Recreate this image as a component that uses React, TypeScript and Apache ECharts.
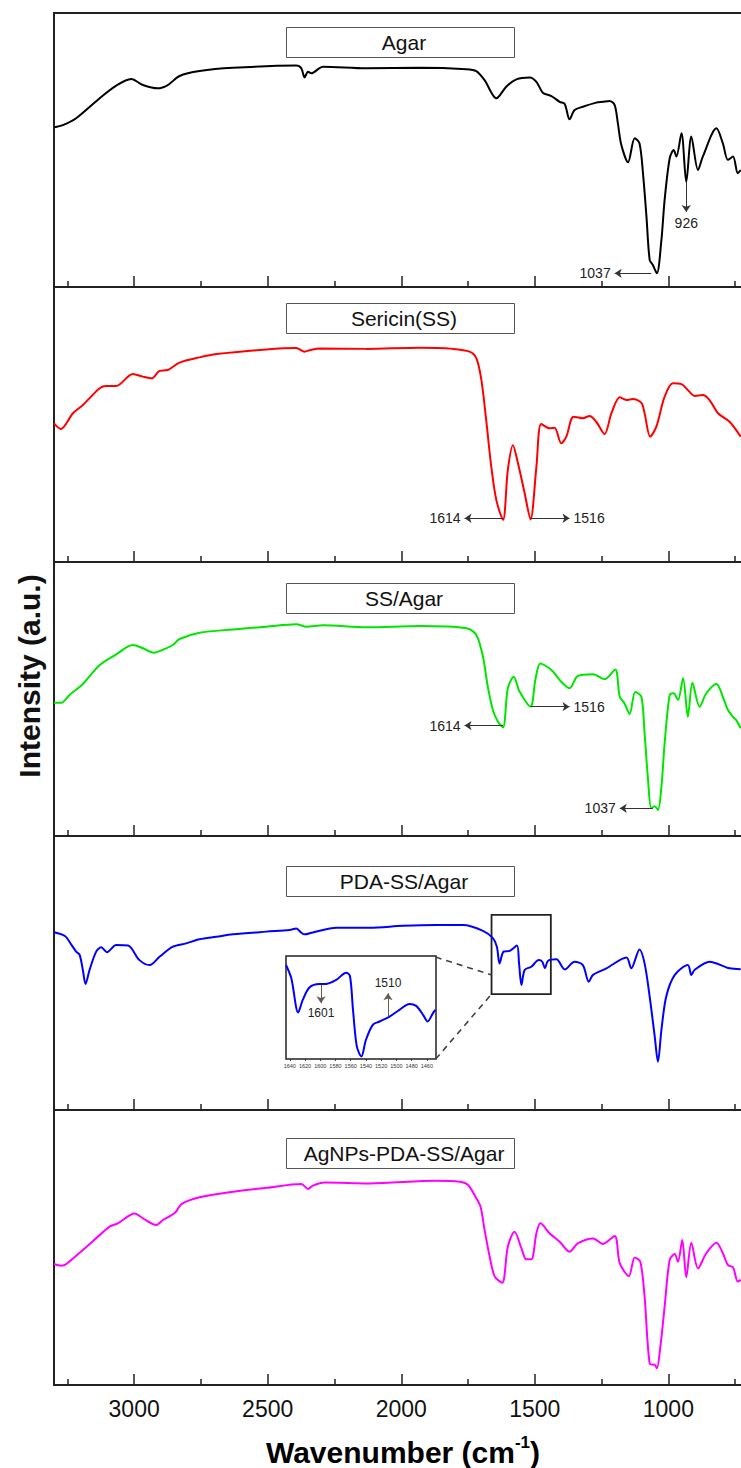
import React, { useEffect, useRef } from 'react';
import * as echarts from 'echarts';

// ---------- data ----------
const majorTicks = [1000, 1500, 2000, 2500, 3000];
const minorTicks = [750, 1250, 1750, 2250, 2750, 3250];
const insetTicks = [1460, 1480, 1500, 1520, 1540, 1560, 1580, 1600, 1620, 1640];

const panelNames = ['Agar', 'Sericin(SS)', 'SS/Agar', 'PDA-SS/Agar', 'AgNPs-PDA-SS/Agar'];
const panelColors = ['#000000', '#ff0000', '#00e600', '#0000ff', '#ff00ff'];

const agar = [[3300,58.3],[3267,59.1],[3217,61.6],[3129,68.9],[3067,73.5],[3011,75.9],[2967,73.7],[2911,72.5],[2874,73.7],[2830,77.0],[2755,78.8],[2630,80.0],[2393,80.8],[2374,79.8],[2362,76.5],[2349,78.6],[2337,78.0],[2293,80.4],[2131,79.8],[1931,80.0],[1756,79.5],[1719,78.8],[1688,75.5],[1644,68.9],[1607,73.1],[1569,75.8],[1519,76.5],[1494,74.9],[1470,70.9],[1438,69.7],[1407,67.6],[1388,66.8],[1370,61.2],[1351,64.6],[1320,65.8],[1270,67.3],[1245,67.6],[1220,67.9],[1201,66.4],[1189,59.7],[1176,51.8],[1151,45.5],[1126,54.3],[1108,52.4],[1095,41.5],[1082,25.7],[1070,9.9],[1058,8.0],[1043,5.0],[1026,17.2],[1014,31.8],[995,47.0],[980,50.0],[970,47.6],[951,56.1],[933,38.4],[914,54.9],[889,42.7],[871,47.6],[820,57.9],[796,52.4],[777,46.4],[758,47.6],[740,41.5],[729,42.7]];

const sericin = [[3300,50.4],[3275,48.4],[3229,54.1],[3192,57.1],[3129,63.2],[3104,64.0],[3067,64.0],[3005,68.4],[2967,67.4],[2934,66.8],[2905,69.5],[2874,69.8],[2830,72.5],[2755,74.4],[2692,75.6],[2505,77.3],[2393,77.8],[2362,76.5],[2343,77.0],[2306,77.6],[2131,77.5],[1931,77.9],[1807,77.5],[1744,76.5],[1719,74.1],[1700,66.2],[1682,51.6],[1663,34.7],[1644,22.5],[1619,15.3],[1601,33.5],[1582,42.5],[1563,35.9],[1538,25.0],[1516,15.5],[1494,34.7],[1476,50.2],[1445,48.6],[1426,48.8],[1401,43.2],[1382,45.6],[1355,52.8],[1320,52.3],[1295,53.1],[1270,51.0],[1239,46.5],[1213,54.1],[1182,59.9],[1157,58.9],[1133,59.3],[1101,57.9],[1089,54.1],[1068,45.6],[1045,49.2],[1014,60.1],[983,65.0],[951,64.7],[927,62.5],[902,60.4],[871,60.7],[846,58.9],[814,54.1],[771,51.0],[729,45.6]];

const ssAgar = [[3300,48.6],[3273,48.6],[3242,51.5],[3192,55.5],[3129,62.4],[3067,66.3],[3005,69.7],[2967,68.5],[2926,66.9],[2880,68.5],[2855,69.7],[2830,71.9],[2755,74.2],[2630,75.4],[2505,76.4],[2393,77.3],[2355,76.4],[2293,76.9],[2131,76.2],[1931,76.6],[1756,75.8],[1719,73.4],[1694,65.4],[1676,54.5],[1657,46.0],[1638,41.7],[1619,39.7],[1601,53.9],[1579,58.1],[1557,52.7],[1516,47.2],[1498,56.9],[1479,63.0],[1438,60.6],[1401,56.3],[1370,53.9],[1339,58.4],[1282,59.0],[1239,57.2],[1199,60.8],[1182,50.8],[1164,48.4],[1145,44.5],[1124,52.6],[1101,50.8],[1089,37.5],[1076,20.4],[1064,10.1],[1051,10.9],[1039,9.5],[1026,18.0],[1014,33.8],[995,51.5],[980,52.1],[964,49.6],[945,57.6],[927,43.5],[910,55.9],[883,47.2],[858,52.1],[820,55.5],[796,50.8],[777,46.0],[758,43.5],[746,42.3],[729,39.3]];

const pdaSsAgar = [[3300,64.9],[3259,63.5],[3234,60.2],[3217,57.8],[3204,56.6],[3192,51.1],[3182,46.0],[3167,51.1],[3142,57.8],[3123,59.4],[3102,57.6],[3067,60.2],[3023,60.0],[2980,54.7],[2942,52.9],[2905,55.9],[2855,59.6],[2805,60.8],[2755,62.3],[2692,63.2],[2630,64.1],[2505,65.1],[2418,65.7],[2393,66.2],[2374,64.7],[2362,64.1],[2331,64.8],[2243,66.5],[2118,66.5],[1994,67.2],[1869,67.5],[1769,67.5],[1694,65.4],[1657,62.7],[1642,59.6],[1632,53.5],[1617,57.8],[1594,58.1],[1567,60.0],[1559,53.5],[1550,45.6],[1538,51.1],[1513,52.3],[1485,54.7],[1472,54.1],[1462,51.7],[1451,54.4],[1419,55.0],[1388,51.3],[1351,54.1],[1320,52.9],[1298,46.8],[1282,49.3],[1232,51.7],[1157,55.7],[1139,51.7],[1108,58.6],[1089,53.5],[1070,41.4],[1051,26.8],[1039,17.6],[1026,29.2],[1008,41.4],[976,49.3],[927,52.9],[914,49.3],[902,51.1],[846,54.1],[771,51.7],[729,51.4]];

const agnpPdaSsAgar = [[3300,44.0],[3273,43.4],[3254,44.0],[3192,49.1],[3129,54.5],[3092,57.6],[3061,58.8],[2998,62.4],[2967,60.6],[2917,58.2],[2892,60.0],[2846,62.7],[2823,65.8],[2755,68.3],[2630,70.3],[2505,71.7],[2374,73.1],[2349,71.3],[2331,72.5],[2287,73.6],[2118,73.3],[1869,74.3],[1781,73.9],[1750,72.7],[1719,67.9],[1703,64.8],[1688,56.4],[1669,46.7],[1650,39.4],[1622,37.2],[1601,50.3],[1576,55.7],[1550,49.7],[1532,45.7],[1513,45.7],[1494,55.2],[1479,58.8],[1445,55.2],[1407,52.1],[1370,48.5],[1339,51.5],[1282,53.3],[1245,51.3],[1201,54.2],[1182,44.3],[1148,39.6],[1126,46.4],[1105,44.8],[1089,32.1],[1070,7.9],[1051,7.3],[1043,6.1],[1030,13.9],[1014,28.5],[995,45.5],[976,47.6],[964,44.8],[948,52.7],[933,39.2],[914,51.7],[889,42.4],[858,47.9],[820,51.7],[796,47.9],[777,43.6],[758,42.8],[740,37.6],[729,38.2]];

const insetPda = [[1645,91.3],[1638,78.4],[1629,45.1],[1623,57.4],[1614,69.7],[1601,72.9],[1592,72.9],[1579,76.8],[1566,83.8],[1561,80.6],[1557,47.7],[1552,12.2],[1546,2.5],[1540,18.7],[1531,33.2],[1522,36.4],[1509,41.2],[1496,47.7],[1483,53.5],[1474,51.6],[1465,42.9],[1459,36.4],[1452,44.5],[1449,47.7]];

const seriesData = [agar, sericin, ssAgar, pdaSsAgar, agnpPdaSsAgar];

// peak annotations: [label, fromWn, fromI, toWn, toI]
const agarPeaks = [['1037', 1064, 5.0, 1201, 5.0], ['926', 933, 38.4, 933, 27.4]];
const sericinPeaks = [['1614', 1619, 15.9, 1763, 15.9], ['1516', 1516, 15.9, 1370, 15.9]];
const ssAgarPeaks = [['1614', 1619, 40.3, 1763, 40.3], ['1516', 1516, 47.2, 1370, 47.2], ['1037', 1058, 10.1, 1182, 10.1]];
const insetPeaks = [['1601', 1599, 71.9, 1599, 54.2], ['1510', 1511, 41.2, 1511, 63.9]];
const panelPeaks = [agarPeaks, sericinPeaks, ssAgarPeaks, [], []];

// zoom box in PDA-SS/Agar panel and connector lines to the inset
const zoomBox = [[1662, 71.2], [1440, 42.3]];
const connectors = [[[1871, 55.8], [1662, 49.3]], [[1871, 18.6], [1662, 42.3]]];

// ---------- layout ----------
const FONT = '"Liberation Sans", Arial, Helvetica, sans-serif';
const WN_MIN = 700;
const WN_MAX = 3300;
const PLOT_LEFT = 54;
const PLOT_WIDTH = 694.5;
const panelTops = [13, 287, 562, 836, 1110];
const panelHeights = [274, 275, 274, 274, 275];
const boxTops = [27, 303, 583, 866, 1138];

const plain = (v: number) => String(v);

function peakMarkLine(peaks: any[], fontSize: number, color: string) {
  return {
    silent: true,
    symbol: ['none', 'arrow'],
    symbolSize: 7,
    animation: false,
    lineStyle: { color, width: 1, type: 'solid' },
    label: { show: true, position: 'end', formatter: '{b}', fontSize, color: '#222', fontFamily: FONT, distance: 4 },
    emphasis: { disabled: true },
    data: peaks.map((p) => [
      { coord: [p[1], p[2]], name: p[0] },
      { coord: [p[3], p[4]] },
    ]),
  };
}

export default function App() {
  const ref = useRef<HTMLDivElement>(null);
  useEffect(() => {
    const chart = echarts.init(ref.current!, null, { renderer: 'svg' });
    const grids: any[] = [];
    const xAxes: any[] = [];
    const yAxes: any[] = [];
    const series: any[] = [];

    panelTops.forEach((top, i) => {
      grids.push({
        left: PLOT_LEFT, top, width: PLOT_WIDTH, height: panelHeights[i],
        show: true, borderColor: '#222', borderWidth: 2, backgroundColor: 'transparent',
      });
      xAxes.push({
        gridIndex: i, type: 'value', min: WN_MIN, max: WN_MAX, inverse: true, position: 'bottom',
        axisLine: { show: false }, splitLine: { show: false },
        axisTick: { show: true, inside: true, length: 11, customValues: majorTicks, lineStyle: { color: '#222', width: 1.5 } },
        axisLabel: { show: i === 4, customValues: majorTicks, formatter: plain, fontSize: 23, color: '#111', margin: 12, fontFamily: FONT },
      });
      xAxes.push({
        gridIndex: i, type: 'value', min: WN_MIN, max: WN_MAX, inverse: true, position: 'bottom',
        axisLine: { show: false }, splitLine: { show: false },
        axisTick: { show: true, inside: true, length: 6, customValues: minorTicks, lineStyle: { color: '#222', width: 1.5 } },
        axisLabel: { show: false },
      });
      yAxes.push({ gridIndex: i, type: 'value', min: 0, max: 100, show: false });
      const s: any = {
        type: 'line', xAxisIndex: i * 2, yAxisIndex: i, data: seriesData[i],
        showSymbol: false, smooth: 0.3, lineStyle: { color: panelColors[i], width: 2 },
        itemStyle: { color: panelColors[i] }, silent: true, z: 3,
      };
      if (panelPeaks[i].length) s.markLine = peakMarkLine(panelPeaks[i], 14, '#333');
      if (i === 3) {
        s.markArea = {
          silent: true,
          itemStyle: { color: 'rgba(0,0,0,0)', borderColor: '#222', borderWidth: 1.8 },
          data: [[{ coord: zoomBox[0] }, { coord: zoomBox[1] }]],
        };
        s.markLine = {
          silent: true, symbol: ['none', 'none'], animation: false,
          lineStyle: { color: '#4a3f3c', width: 1.6, type: [6, 5] },
          label: { show: false },
          data: connectors.map((c) => [{ coord: c[0] }, { coord: c[1] }]),
        };
      }
      series.push(s);
    });

    // inset
    grids.push({ left: 286, top: 956, width: 150, height: 103, show: true, borderColor: '#222', borderWidth: 1.5 });
    xAxes.push({
      gridIndex: 5, type: 'value', min: 1448, max: 1645, inverse: true,
      axisLine: { show: false }, splitLine: { show: false },
      axisTick: { show: true, inside: false, length: 2, customValues: insetTicks, lineStyle: { color: '#222', width: 0.8 } },
      axisLabel: { show: true, customValues: insetTicks, formatter: plain, fontSize: 5.5, color: '#333', margin: 4, fontFamily: FONT },
    });
    yAxes.push({ gridIndex: 5, type: 'value', min: 0, max: 100, show: false });
    series.push({
      type: 'line', xAxisIndex: 10, yAxisIndex: 5, data: insetPda, showSymbol: false, smooth: 0.3,
      lineStyle: { color: '#0000ff', width: 2 }, silent: true,
      markLine: peakMarkLine(insetPeaks, 12, '#6a5a55'),
    });

    const graphics: any[] = [];
    boxTops.forEach((t, i) => {
      graphics.push({
        type: 'rect', left: 286, top: t, shape: { width: 228, height: 30 },
        style: { fill: '#fff', stroke: '#555', lineWidth: 1 }, z: 10,
      });
      graphics.push({
        type: 'text', x: 404, y: t + 15, z: 11,
        style: { text: panelNames[i], fontSize: 21, fontFamily: FONT, fill: '#111', textAlign: 'center', textVerticalAlign: 'middle' },
      });
    });
    graphics.push({
      type: 'text', x: 29, y: 676, rotation: Math.PI / 2, z: 11,
      style: { text: 'Intensity (a.u.)', fontSize: 30, fontWeight: 'bold', fontFamily: FONT, fill: '#111', textAlign: 'center', textVerticalAlign: 'middle' },
    });
    graphics.push({
      type: 'text', x: 403, y: 1452, z: 11,
      style: {
        text: '{a|Wavenumber (cm}{b|-1}{a|)}', textAlign: 'center', textVerticalAlign: 'middle',
        rich: {
          a: { fontSize: 30, fontWeight: 'bold', fontFamily: FONT, color: '#111', lineHeight: 36 },
          b: { fontSize: 17, fontWeight: 'bold', fontFamily: FONT, color: '#111', lineHeight: 17, verticalAlign: 'top' },
        },
      },
    });

    chart.setOption({
      animation: false,
      backgroundColor: '#fff',
      grid: grids,
      xAxis: xAxes,
      yAxis: yAxes,
      series,
      graphic: graphics,
    });
    return () => chart.dispose();
  }, []);
  return (
    <div style={{ position: 'absolute', left: 0, top: 0, width: 741, height: 1468, overflow: 'hidden', background: '#fff' }}>
      <div ref={ref} style={{ width: 800, height: 1468 }} />
    </div>
  );
}
